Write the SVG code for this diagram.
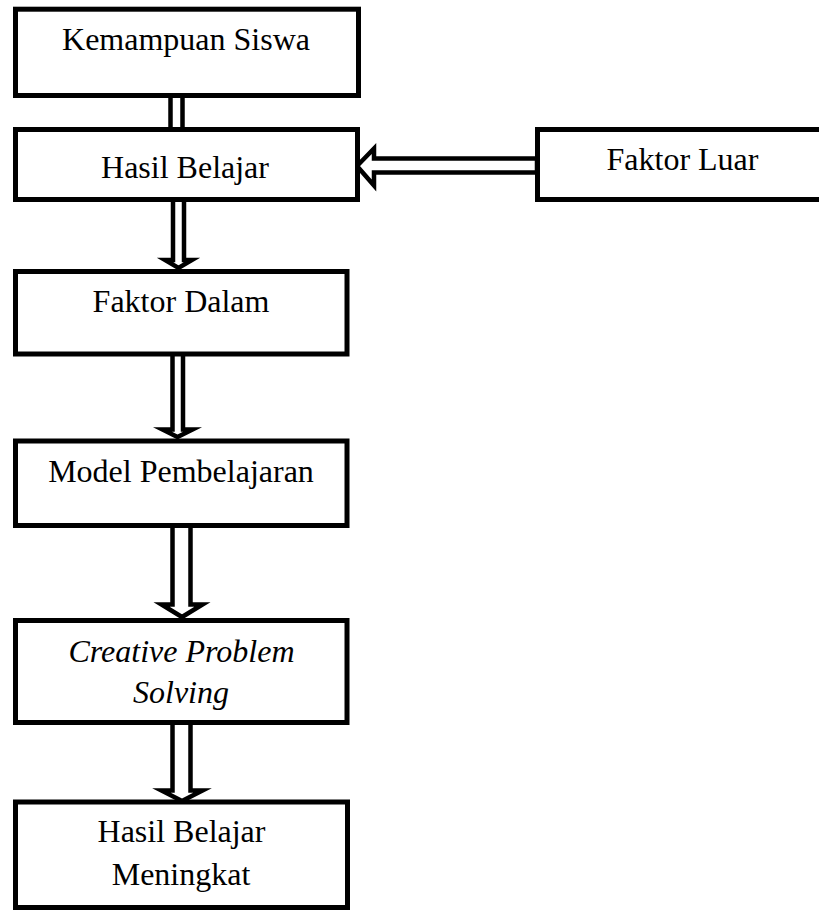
<svg xmlns="http://www.w3.org/2000/svg" width="819" height="911" viewBox="0 0 819 911">
<style>
.box{fill:#fff;stroke:#000;stroke-width:5}
.arr{fill:#fff;stroke:#000;stroke-width:4.5;stroke-linejoin:miter;stroke-miterlimit:10}
.t{font-family:"Liberation Serif","Times New Roman",serif;font-size:32px;fill:#000;text-anchor:middle}
.i{font-style:italic}
</style>
<rect width="819" height="911" fill="#fff"/>
<g id="connectors">
<polygon class="arr" points="170.5,90 182.5,90 182.5,135 170.5,135"/>
<polygon class="arr" points="357,166 374,148.5 374,158.5 537,158.5 537,172.5 374,172.5 374,185.5"/>
<polygon class="arr" points="173,195 184,195 184,260 192,260 178.5,268 165,260 173,260"/>
<polygon class="arr" points="172.5,350 183,350 183,429.5 192.5,429.5 177.5,437 162.5,429.5 172.5,429.5"/>
<polygon class="arr" points="172.5,520 190.5,520 190.5,604.5 202.5,604.5 182,617 161.5,604.5 172.5,604.5"/>
<polygon class="arr" points="172.5,715 190.5,715 190.5,790.5 202.5,790.5 182,801 161.5,790.5 172.5,790.5"/>
</g>
<g id="n1"><rect class="box" x="15.5" y="9.2" width="343" height="86.3"/><text class="t" x="186" y="50">Kemampuan Siswa</text></g>
<g id="n2"><rect class="box" x="15.5" y="129.5" width="342" height="70"/><text class="t" x="185" y="178">Hasil Belajar</text></g>
<g id="n3"><rect class="box" x="537.5" y="129.5" width="290" height="70"/><text class="t" x="682.5" y="170">Faktor Luar</text></g>
<g id="n4"><rect class="box" x="15.5" y="271.5" width="331.5" height="82.5"/><text class="t" x="181" y="311.5">Faktor Dalam</text></g>
<g id="n5"><rect class="box" x="15.5" y="441" width="331.5" height="84.5"/><text class="t" x="181" y="481.5">Model Pembelajaran</text></g>
<g id="n6"><rect class="box" x="15.5" y="620.5" width="331.5" height="102"/><text class="t i" x="181.5" y="661.5">Creative Problem</text><text class="t i" x="181" y="703">Solving</text></g>
<g id="n7"><rect class="box" x="15.5" y="802" width="332" height="105.5"/><text class="t" x="181.5" y="841.5">Hasil Belajar</text><text class="t" x="181" y="885">Meningkat</text></g>
</svg>
